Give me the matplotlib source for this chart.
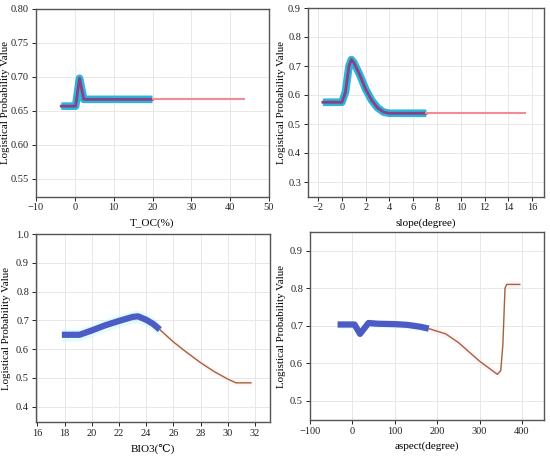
import numpy as np
import matplotlib.pyplot as plt

plt.rcParams['font.family'] = ['Liberation Serif', 'DejaVu Serif']
plt.rcParams['font.size'] = 7.5

# T_OC(%)
toc_x = [-3.5, 0.2, 1.2, 2.3, 20.0]
toc_y = [0.657, 0.657, 0.698, 0.667, 0.667]
toc_ext_x = [20.0, 43.5]
toc_ext_y = [0.667, 0.667]

# slope(degree)
slope_x = [-1.6, 0.0, 0.3, 0.6, 0.8, 1.0, 1.5, 2.0, 2.5, 3.0, 3.5, 4.0, 7.1]
slope_y = [0.575, 0.575, 0.61, 0.70, 0.722, 0.712, 0.67, 0.62, 0.582, 0.556, 0.541, 0.537, 0.537]
slope_ext_x = [7.1, 15.4]
slope_ext_y = [0.537, 0.537]

# BIO3(°C)
bio_x = [17.8, 19.1, 20.0, 21.0, 22.0, 23.0, 23.4, 24.0, 24.5, 25.0]
bio_y = [0.650, 0.650, 0.665, 0.683, 0.698, 0.712, 0.714, 0.702, 0.688, 0.668]
bio_ext_x = [25.0, 26.0, 27.0, 28.0, 29.0, 30.0, 30.6, 31.7]
bio_ext_y = [0.668, 0.625, 0.588, 0.553, 0.522, 0.496, 0.483, 0.483]

# aspect(degree)
asp_x = [-35, 5, 18, 38, 60, 100, 130, 160, 180]
asp_y = [0.703, 0.703, 0.678, 0.707, 0.705, 0.704, 0.702, 0.697, 0.692]
asp_ext_x = [180, 220, 250, 300, 330, 342, 350, 355, 360, 364, 395]
asp_ext_y = [0.692, 0.678, 0.655, 0.605, 0.58, 0.570, 0.58, 0.65, 0.80, 0.81, 0.81]

fig = plt.figure(figsize=(5.5, 4.57), dpi=100)
ax1 = fig.add_axes([36/550, 1-196.5/457, 233/550, 187.5/457])
ax2 = fig.add_axes([308/550, 1-196.5/457, 236/550, 188.5/457])
ax3 = fig.add_axes([36/550, 1-422/457, 234/550, 188/457])
ax4 = fig.add_axes([310/550, 1-420/457, 234/550, 188/457])


def style(ax, xlabel, ylab_x):
    ax.grid(True, color='#e4e4e4', lw=0.6)
    ax.set_axisbelow(True)
    for s in ax.spines.values():
        s.set_color('#555555')
        s.set_linewidth(1.0)
    ax.tick_params(direction='out', length=3, width=0.7, pad=2, colors='#222222', labelsize=7.5)
    ax.set_xlabel(xlabel, fontsize=8, labelpad=4)
    ax.set_ylabel('Logistical Probability Value', fontsize=7.8)
    ax.yaxis.set_label_coords(ylab_x, 0.5)


# top row: thick cyan with purple core, pink extension
ax1.plot(toc_x, toc_y, color='#2bb5d8', lw=5.5, solid_capstyle='butt')
ax1.plot(toc_x, toc_y, color='#8a3f86', lw=2)
ax1.plot(toc_ext_x, toc_ext_y, color='#f28b95', lw=1.5)
ax1.set_xlim(-10, 50)
ax1.set_ylim(0.524, 0.80)
ax1.set_xticks(np.arange(-10, 51, 10))
ax1.set_yticks(np.arange(0.55, 0.801, 0.05))
style(ax1, 'T_OC(%)', -0.113)

ax2.plot(slope_x, slope_y, color='#2bb5d8', lw=5.5, solid_capstyle='butt')
ax2.plot(slope_x, slope_y, color='#8a3f86', lw=2)
ax2.plot(slope_ext_x, slope_ext_y, color='#f28b95', lw=1.5)
ax2.set_xlim(-2.85, 17)
ax2.set_ylim(0.25, 0.9)
ax2.set_xticks(np.arange(-2, 17, 2))
ax2.set_yticks(np.arange(0.3, 0.91, 0.1))
style(ax2, 'slope(degree)', -0.093)

# bottom row: thick blue with faint cyan band, brown extension
ax3.fill_between(bio_x, np.array(bio_y) - 0.022, np.array(bio_y) + 0.022, color='#aef4f6', alpha=0.35, lw=0)
ax3.fill_between(bio_ext_x, np.array(bio_ext_y) - 0.01, np.array(bio_ext_y) + 0.01, color='#fde4ee', alpha=0.4, lw=0)
ax3.plot(bio_x, bio_y, color='#4c5cc4', lw=4.5, solid_capstyle='butt')
ax3.plot(bio_ext_x, bio_ext_y, color='#a0643c', lw=1)
ax3.set_xlim(15.9, 33.1)
ax3.set_ylim(0.347, 1.0)
ax3.set_xticks(np.arange(16, 33, 2))
ax3.set_yticks(np.arange(0.4, 1.01, 0.1))
style(ax3, 'BIO3(℃)', -0.105)

ax4.fill_between(asp_x, np.array(asp_y) - 0.01, np.array(asp_y) + 0.01, color='#aef4f6', alpha=0.35, lw=0)
ax4.fill_between(asp_ext_x, np.array(asp_ext_y) - 0.01, np.array(asp_ext_y) + 0.01, color='#fde4ee', alpha=0.4, lw=0)
ax4.plot(asp_x, asp_y, color='#4c5cc4', lw=4.5, solid_capstyle='butt')
ax4.plot(asp_ext_x, asp_ext_y, color='#a0643c', lw=1)
ax4.set_xlim(-100, 452)
ax4.set_ylim(0.448, 0.95)
ax4.set_xticks(np.arange(-100, 401, 100))
ax4.set_yticks(np.arange(0.5, 0.91, 0.1))
style(ax4, 'aspect(degree)', -0.103)

fig.savefig('out.png', dpi=100)
